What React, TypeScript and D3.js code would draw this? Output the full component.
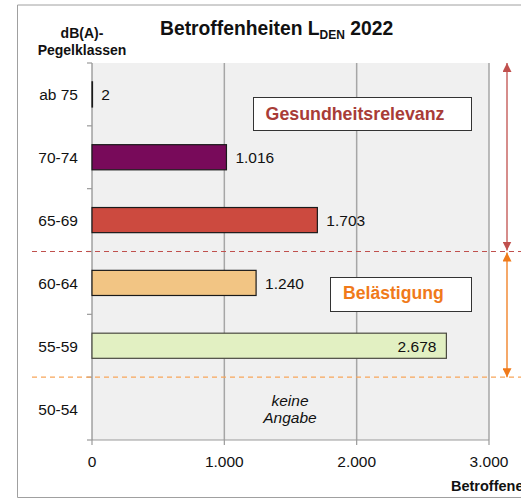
import * as d3 from "d3";

const categories = ["ab 75", "70-74", "65-69", "60-64", "55-59", "50-54"];
const values: (number | null)[] = [2, 1016, 1703, 1240, 2678, null];
const valueLabels = ["2", "1.016", "1.703", "1.240", "2.678", ""];
const barColors = ["#780a5a", "#780a5a", "#cc4a3f", "#f2c584", "#e2f0c2", "none"];
const xTicks = [0, 1000, 2000, 3000];
const xTickLabels = ["0", "1.000", "2.000", "3.000"];

const W = 521;
const H = 500;
const plot = { left: 92, right: 489, top: 63, bottom: 440 };
const font = "'Liberation Sans', Arial, sans-serif";

export default function App() {
    const x = d3.scaleLinear([0, 3000], [plot.left, plot.right]);
    const y = d3.scaleBand<string>(categories, [plot.top, plot.bottom]).padding(0);
    const bw = y.bandwidth();
    const barH = bw * 0.4;
    const fmt = (v: number) => v.toLocaleString("de-DE");

    const redLineY = y("60-64")!;
    const orangeLineY = y("50-54")!;
    const arrowX = 507;

    return (
        <svg width={W} height={H} style={{ position: "fixed", left: 0, top: 0 }} fontFamily={font}>
            <defs>
                <marker id="ar" viewBox="0 0 10 10" refX="10" refY="5" markerWidth="9" markerHeight="9" orient="auto-start-reverse" markerUnits="userSpaceOnUse">
                    <path d="M0,0 L10,5 L0,10 Z" fill="#c0504d" />
                </marker>
                <marker id="ao" viewBox="0 0 10 10" refX="10" refY="5" markerWidth="9" markerHeight="9" orient="auto-start-reverse" markerUnits="userSpaceOnUse">
                    <path d="M0,0 L10,5 L0,10 Z" fill="#f07a1a" />
                </marker>
            </defs>
            <rect x={0} y={0} width={W} height={H} fill="white" />
            {/* outer frame */}
            <path d={`M${W + 2},5 H17.5 V497.5 H${W + 2}`} fill="none" stroke="#a0a0a0" strokeWidth={1} />

            {/* plot background */}
            <rect x={plot.left} y={plot.top} width={plot.right - plot.left} height={plot.bottom - plot.top} fill="#f0f0f0" />

            {/* grid */}
            {xTicks.slice(1).map((t) => (
                <line key={t} x1={x(t)} x2={x(t)} y1={plot.top} y2={plot.bottom} stroke="#a6a6a6" strokeWidth={1.5} />
            ))}

            {/* bottom axis */}
            <line x1={plot.left} x2={plot.right} y1={plot.bottom} y2={plot.bottom} stroke="#9a9a9a" strokeWidth={1.2} />
            {xTicks.map((t, i) => (
                <g key={t}>
                    <line x1={x(t)} x2={x(t)} y1={plot.bottom} y2={plot.bottom + 5} stroke="#9a9a9a" strokeWidth={1.2} />
                    <text x={x(t)} y={467} textAnchor="middle" fontSize={15.5} fill="#111">{xTickLabels[i]}</text>
                </g>
            ))}
            <text x={451} y={491} fontSize={14.5} fontWeight="bold" fill="#111">Betroffene</text>

            {/* left axis */}
            <line x1={plot.left} x2={plot.left} y1={plot.top} y2={plot.bottom} stroke="#8a8a8a" strokeWidth={1.2} />
            {categories.map((c) => (
                <line key={c} x1={plot.left - 5} x2={plot.left} y1={y(c)!} y2={y(c)!} stroke="#9a9a9a" strokeWidth={1.2} />
            ))}
            <line x1={plot.left - 5} x2={plot.left} y1={plot.bottom} y2={plot.bottom} stroke="#9a9a9a" strokeWidth={1.2} />
            {categories.map((c) => (
                <text key={c} x={78} y={y(c)! + bw / 2 + 6} textAnchor="end" fontSize={15.5} fill="#111">{c}</text>
            ))}

            {/* bars */}
            {categories.map((c, i) => {
                const v = values[i];
                if (v == null) return null;
                const yy = y(c)! + (bw - barH) / 2;
                return (
                    <rect key={c} x={x(0)} y={yy} width={Math.max(x(v) - x(0), 0.5)} height={barH}
                        fill={barColors[i]} stroke={i === 4 ? "#4a4a40" : "#1a1a1a"} strokeWidth={1.2} />
                );
            })}

            {/* value labels */}
            {categories.map((c, i) => {
                const v = values[i];
                if (v == null) return null;
                const cy = y(c)! + bw / 2 + 6;
                const inside = i === 4;
                return (
                    <text key={c} x={inside ? x(v) - 10 : x(v) + 9} y={cy} textAnchor={inside ? "end" : "start"}
                        fontSize={15.5} fill="#111">{valueLabels[i] || fmt(v)}</text>
                );
            })}

            <text x={290} y={406} textAnchor="middle" fontSize={15.5} fontStyle="italic" fill="#111">keine</text>
            <text x={290} y={423} textAnchor="middle" fontSize={15.5} fontStyle="italic" fill="#111">Angabe</text>

            {/* dashed threshold lines */}
            <line x1={32} x2={W} y1={redLineY} y2={redLineY} stroke="#c0504d" strokeWidth={1.2} strokeDasharray="5,4" />
            <line x1={32} x2={W} y1={orangeLineY} y2={orangeLineY} stroke="#f8a55a" strokeWidth={1.2} strokeDasharray="5,4" />

            {/* arrows */}
            <line x1={arrowX} x2={arrowX} y1={plot.top} y2={redLineY - 1} stroke="#c0504d" strokeWidth={1.3}
                markerStart="url(#ar)" markerEnd="url(#ar)" />
            <line x1={arrowX} x2={arrowX} y1={redLineY + 1} y2={orangeLineY} stroke="#f07a1a" strokeWidth={1.3}
                markerStart="url(#ao)" markerEnd="url(#ao)" />

            {/* annotation boxes */}
            <rect x={253.5} y={97.5} width={218} height={33} fill="white" stroke="#333" strokeWidth={1} />
            <text x={355} y={120} textAnchor="middle" fontSize={17.8} fontWeight="bold" fill="#a83c37">Gesundheitsrelevanz</text>
            <rect x={330.5} y={277.5} width={141} height={34} fill="white" stroke="#333" strokeWidth={1} />
            <text x={343} y={299} fontSize={17.6} fontWeight="bold" fill="#f07a1a">Belästigung</text>

            {/* titles */}
            <text x={160} y={35} fontSize={19.3} fontWeight="bold" fill="#111">
                Betroffenheiten L<tspan fontSize={12} dy={4}>DEN</tspan><tspan dy={-4}> 2022</tspan>
            </text>
            <text x={82} y={38} textAnchor="middle" fontSize={14} fontWeight="bold" fill="#111">dB(A)-</text>
            <text x={82} y={55} textAnchor="middle" fontSize={14} fontWeight="bold" fill="#111">Pegelklassen</text>
        </svg>
    );
}
